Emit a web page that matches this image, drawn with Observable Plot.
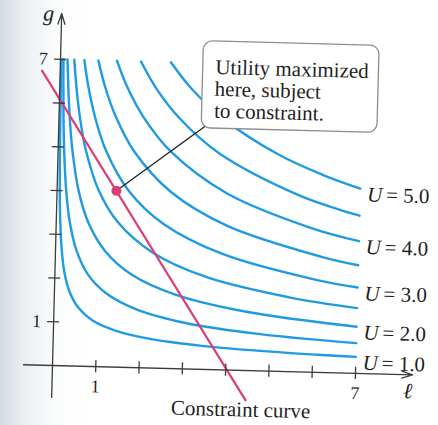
<!DOCTYPE html>
<html>
<head>
<meta charset="utf-8">
<script src="https://cdn.jsdelivr.net/npm/d3@7"></script>
<script src="https://cdn.jsdelivr.net/npm/@observablehq/plot@0.6"></script>
<style>
  html, body { margin: 0; padding: 0; }
  body {
    width: 438px; height: 425px; overflow: hidden;
    background: linear-gradient(to right, #d3dce3 0px, #e9eef1 22px, #fbfcfc 55px, #ffffff 90px);
  }
  #chart svg { display: block; transform: rotate(1.5deg); transform-origin: 52px 365px; }
</style>
</head>
<body>
<div id="chart"></div>
<script>
// Utility levels of the indifference curves (leisure ℓ, goods g)
const levels = [1.0, 1.5, 2.0, 2.5, 3.0, 3.5, 4.0, 4.5, 5.0];

// [ℓ, g] points along each indifference curve, from the top edge (g = 7) to ℓ = 7
const u10 = [[0.020,7],[0.0245,6.39],[0.031,5.72],[0.041,4.95],[0.061,4.04],[0.092,3.30],[0.143,2.65],[0.224,2.11],[0.347,1.70],[0.551,1.35],[0.918,1.04],[1.43,0.837],[2.24,0.667],[3.67,0.522],[6.12,0.404],[7,0.378]];
const u15 = [[0.069,7],[0.083,6.39],[0.103,5.72],[0.138,4.95],[0.207,4.04],[0.310,3.30],[0.482,2.65],[0.758,2.11],[1.171,1.70],[1.86,1.35],[3.10,1.04],[4.82,0.837],[7,0.694]];
const u20 = [[0.163,7],[0.196,6.39],[0.245,5.72],[0.327,4.95],[0.490,4.04],[0.735,3.30],[1.143,2.65],[1.796,2.11],[2.776,1.70],[4.41,1.35],[7,1.069]];
const u25 = [[0.319,7],[0.383,6.39],[0.478,5.72],[0.638,4.95],[0.957,4.04],[1.435,3.30],[2.232,2.65],[3.508,2.11],[5.42,1.70],[7,1.494]];
const u30 = [[0.551,7],[0.661,6.39],[0.827,5.72],[1.102,4.95],[1.653,4.04],[2.48,3.30],[3.857,2.65],[6.06,2.11],[7,1.964]];
const u35 = [[0.875,7],[1.05,6.39],[1.313,5.72],[1.75,4.95],[2.625,4.04],[3.94,3.30],[6.125,2.65],[7,2.475]];
const u40 = [[1.306,7],[1.567,6.39],[1.959,5.72],[2.612,4.95],[3.918,4.04],[5.878,3.30],[7,3.024]];
const u45 = [[1.86,7],[2.232,6.39],[2.79,5.72],[3.719,4.95],[5.579,4.04],[6.51,3.74],[7,3.608]];
const u50 = [[2.551,7],[3.061,6.39],[3.827,5.72],[5.102,4.95],[6.12,4.52],[7,4.226]];
const curvePoints = [u10, u15, u20, u25, u30, u35, u40, u45, u50];

// Curves that carry a "U = …" label at their right end
const labeledLevels = [1.0, 2.0, 3.0, 4.0, 5.0];
const labelValues = ["1.0", "2.0", "3.0", "4.0", "5.0"];

// Budget constraint (end points of the drawn segment) and the optimum on it
const constraint = [[-0.42, 6.73], [4.48, -0.68]];
const optimum = [1.37, 4.03];

// Axis ticks and their labels
const xTicks = [1, 2, 3, 4, 5, 6, 7];
const yTicks = [1, 2, 3, 4, 5, 6, 7];
const xTickLabels = [1, 7];
const yTickLabels = [1, 7];

const calloutLines = ["Utility maximized", "here, subject", "to constraint."];
const constraintLabel = "Constraint curve";
const xName = "ℓ";
const yName = "g";

const table = levels.flatMap((U, k) => curvePoints[k].map(([l, g]) => ({U, l, g})));
const ends = labeledLevels.map((U, i) => {
  const pts = curvePoints[levels.indexOf(U)];
  const [l, g] = pts[pts.length - 1];
  return {l, g, text: "= " + labelValues[i]};
});

const serif = "'Liberation Serif', 'Times New Roman', 'DejaVu Serif', serif";
const ink = "#1f1f1f";
const axisInk = "#3c3c3c";
const blue = "#1f9be2";
const pink = "#dc3f78";

const chart = Plot.plot({
  width: 438,
  height: 425,
  marginLeft: 52,
  marginRight: 5,
  marginTop: 15,
  marginBottom: 60,
  x: {domain: [0, 8.8], axis: null},
  y: {domain: [0, 8], axis: null},
  style: {fontFamily: serif, background: "transparent", overflow: "visible", color: ink},
  marks: [
    // indifference curves
    Plot.line(table, {x: "l", y: "g", z: "U", curve: "catmull-rom", stroke: blue, strokeWidth: 2.4}),
    // constraint line
    Plot.line(constraint, {x: d => d[0], y: d => d[1], stroke: pink, strokeWidth: 2.2}),
    // axes with arrow heads
    Plot.arrow([0], {x1: -0.67, y1: 0, x2: 8.32, y2: 0, stroke: axisInk, strokeWidth: 1.3, headLength: 13, headAngle: 36}),
    Plot.arrow([0], {x1: 0, y1: -0.73, x2: 0, y2: 8.05, stroke: axisInk, strokeWidth: 1.3, headLength: 13, headAngle: 36}),
    // tick marks crossing the axes
    Plot.ruleX(xTicks, {y1: -0.14, y2: 0.14, stroke: axisInk, strokeWidth: 1.3}),
    Plot.ruleY(yTicks, {x1: -0.14, x2: 0.14, stroke: axisInk, strokeWidth: 1.3}),
    Plot.text(xTickLabels, {x: d => d, y: 0, dy: 20, text: d => String(d), fontSize: 18, fill: ink}),
    Plot.text(yTickLabels, {x: 0, y: d => d, dx: -17, text: d => String(d), fontSize: 18, fill: ink}),
    // axis names
    Plot.text([xName], {x: 8.22, y: -0.54, text: d => d, fontSize: 22, fontStyle: "italic", lineAnchor: "bottom", fill: ink}),
    Plot.text([yName], {x: -0.3, y: 7.88, text: d => d, fontSize: 22, fontStyle: "italic", lineAnchor: "bottom", fill: ink}),
    // leader from the optimum to the callout
    Plot.link([0], {x1: optimum[0], y1: optimum[1], x2: 3.38, y2: 5.56, stroke: "#1e1e1e", strokeWidth: 1.3}),
    // callout box
    Plot.rect([0], {x1: 3.3, x2: 7.36, y1: 5.51, y2: 7.5, rx: 9, fill: "white", stroke: "#8e8e8e", strokeWidth: 1.3}),
    Plot.text(calloutLines, {x: 3.58, y: (d, i) => 6.76 - i * 0.5, text: d => d, textAnchor: "start", lineAnchor: "bottom", fontSize: 21, fill: ink}),
    // level labels
    Plot.text(ends, {x: "l", y: "g", dx: 7, dy: 6, text: () => "U", textAnchor: "start", fontSize: 21, fontStyle: "italic", fill: ink}),
    Plot.text(ends, {x: "l", y: "g", dx: 26, dy: 6, text: "text", textAnchor: "start", fontSize: 21, fill: ink}),
    // constraint label
    Plot.text([constraintLabel], {x: 4.37, y: -1.05, text: d => d, lineAnchor: "bottom", fontSize: 21, fill: ink}),
    // optimum point
    Plot.dot([optimum], {x: d => d[0], y: d => d[1], r: 5, fill: pink})
  ]
});

document.getElementById("chart").appendChild(chart);
</script>
</body>
</html>
